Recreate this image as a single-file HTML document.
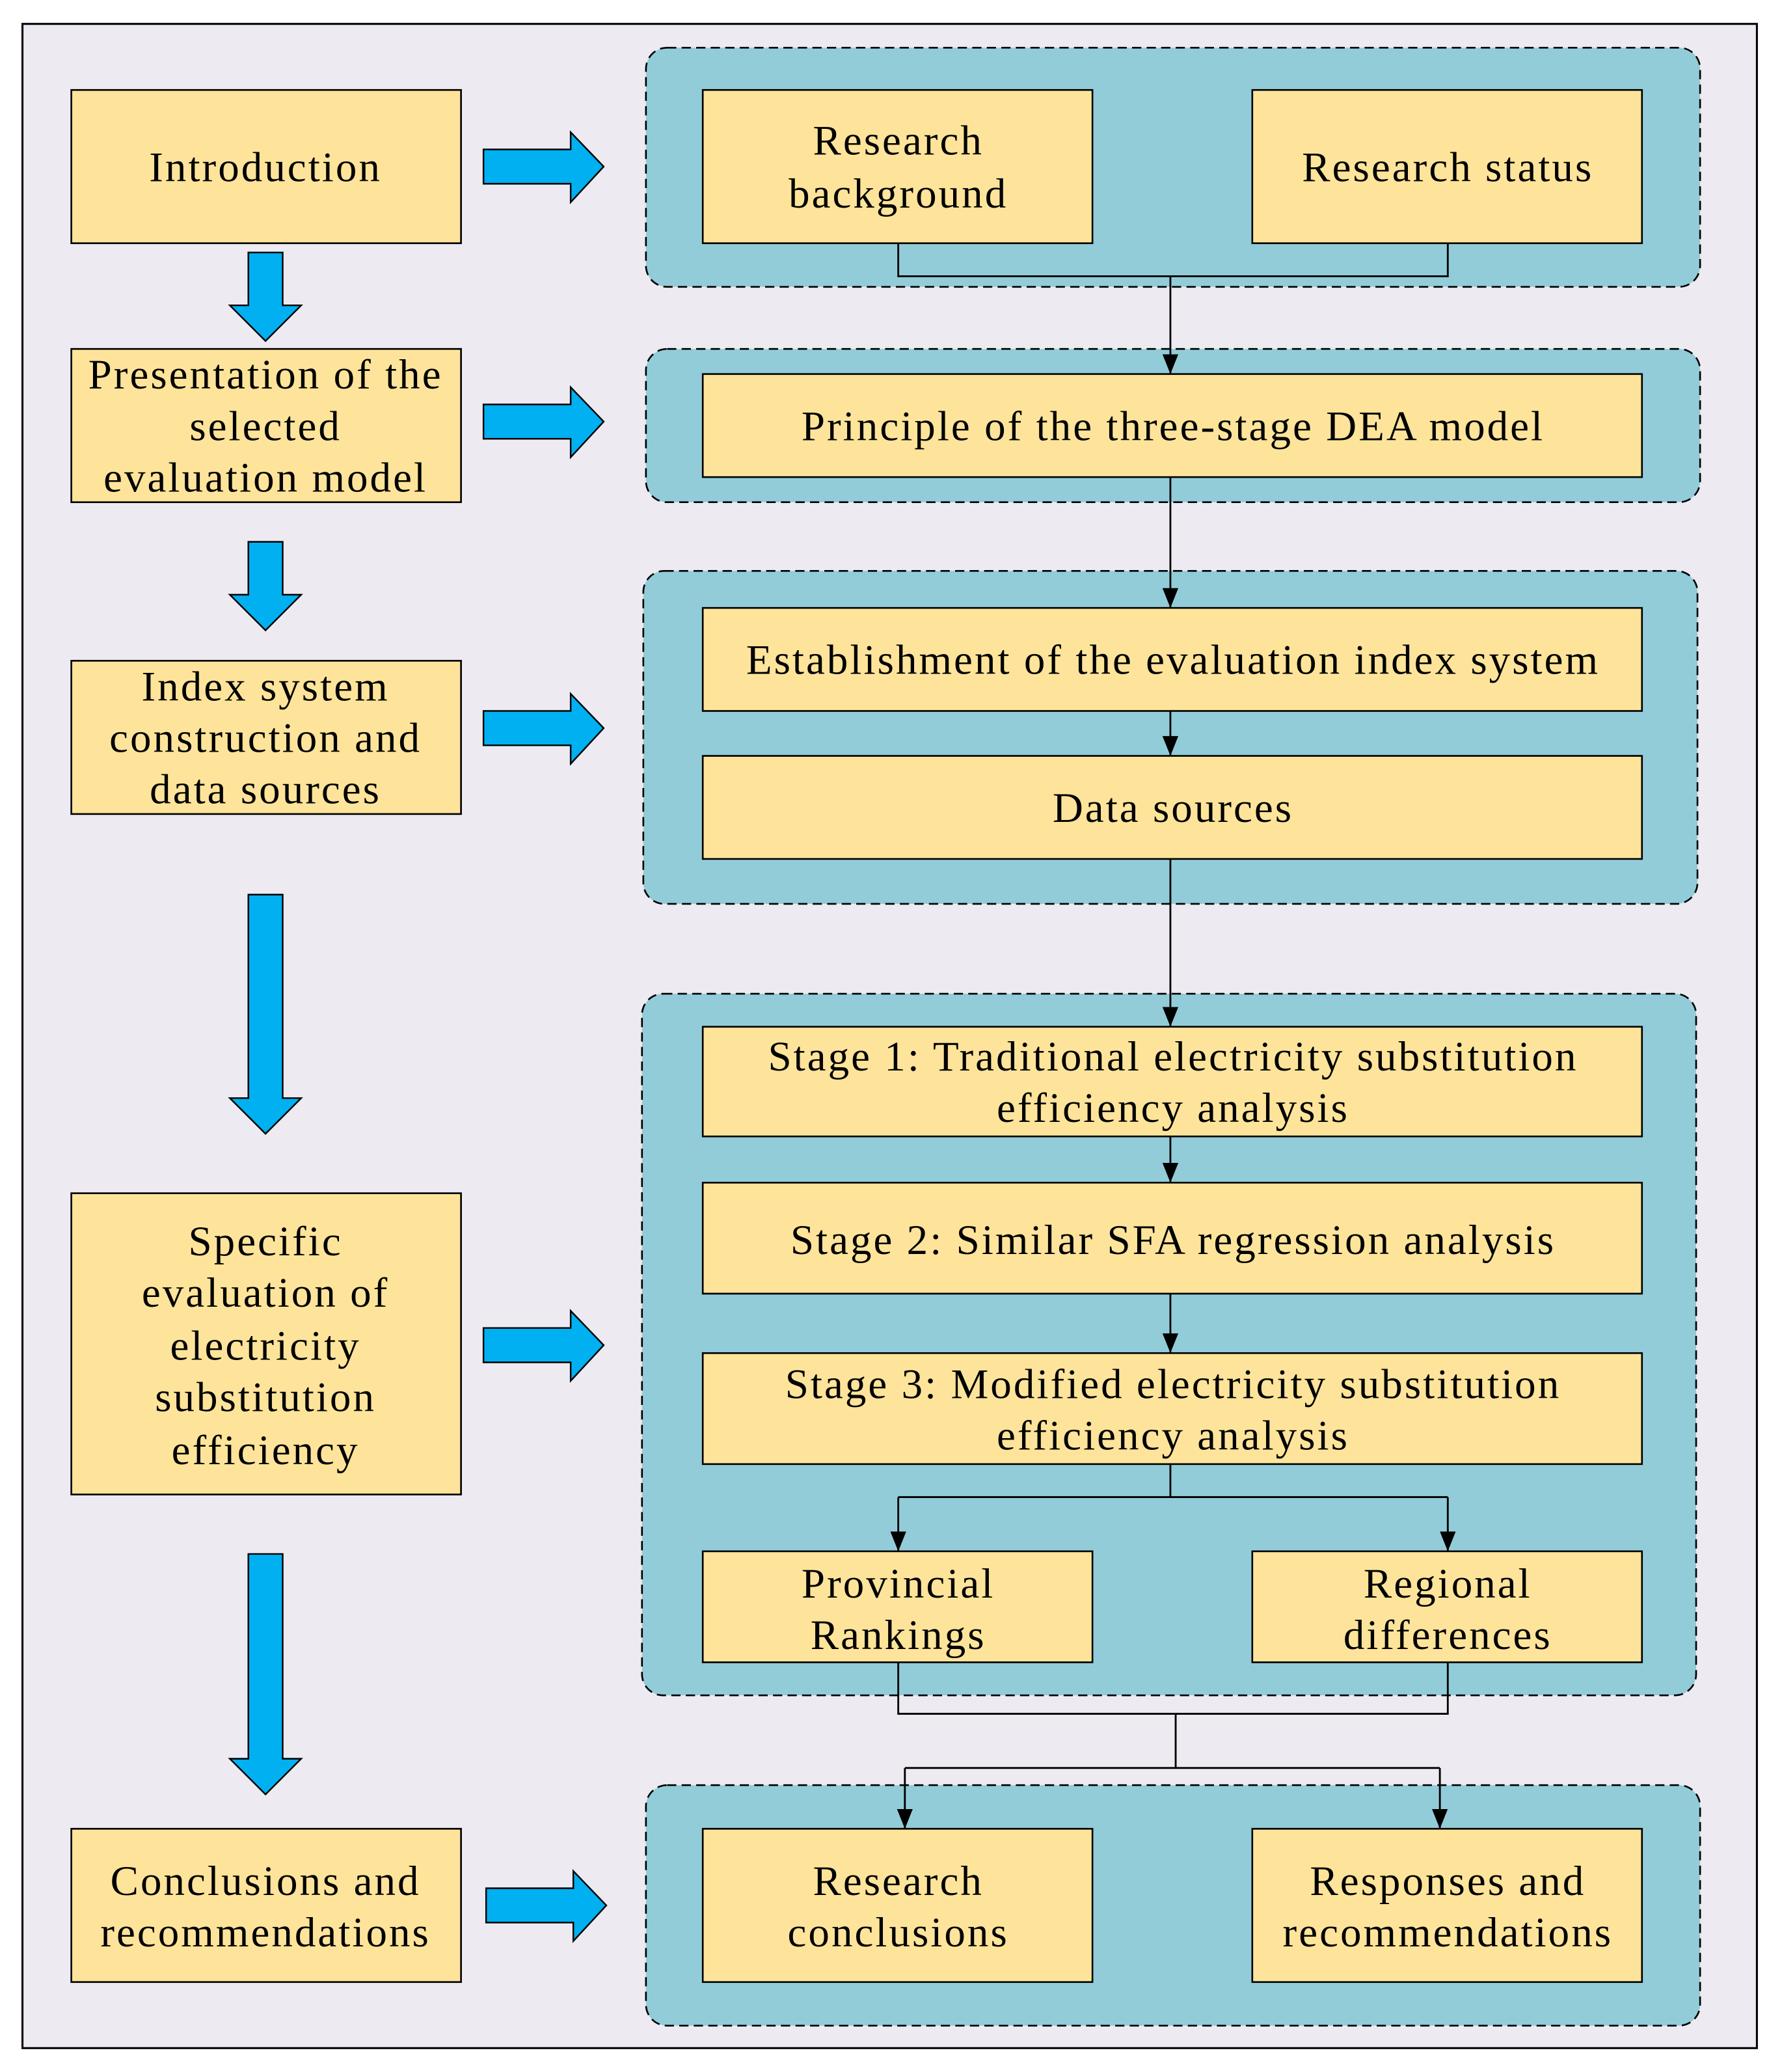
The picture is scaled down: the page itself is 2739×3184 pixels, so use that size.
<!DOCTYPE html>
<html><head><meta charset="utf-8"><style>
html,body{margin:0;padding:0;background:#fff}
svg{display:block}
text{font-family:"Liberation Serif",serif;font-size:32px;letter-spacing:1.5px;fill:#000;text-anchor:middle}
</style></head><body>
<svg width="2739" height="3184" viewBox="0 0 1349 1568" xmlns="http://www.w3.org/2000/svg">
<defs>
<marker id="ah" markerWidth="15" markerHeight="12" refX="15" refY="6" orient="auto" markerUnits="userSpaceOnUse">
<path d="M0,0 L15,6 L0,12 Z" fill="#000"/>
</marker>
</defs>
<rect x="17" y="18" width="1313" height="1532" fill="#edeaf2" stroke="#000" stroke-width="1.5"/>
<g fill="#92ccd9" stroke="#000" stroke-width="1.3" stroke-dasharray="7,4">
<rect x="489" y="36" width="798" height="181" rx="16"/>
<rect x="489" y="264" width="798" height="116" rx="16"/>
<rect x="487" y="432" width="798" height="252" rx="16"/>
<rect x="486" y="752" width="798" height="531" rx="16"/>
<rect x="489" y="1351" width="798" height="182" rx="16"/>
</g>
<g fill="#fde49a" stroke="#000" stroke-width="1.3">
<rect x="54" y="68" width="295" height="116"/>
<rect x="54" y="264" width="295" height="116"/>
<rect x="54" y="500" width="295" height="116"/>
<rect x="54" y="903" width="295" height="228"/>
<rect x="54" y="1384" width="295" height="116"/>
<rect x="532" y="68" width="295" height="116"/>
<rect x="948" y="68" width="295" height="116"/>
<rect x="532" y="283" width="711" height="78"/>
<rect x="532" y="460" width="711" height="78"/>
<rect x="532" y="572" width="711" height="78"/>
<rect x="532" y="777" width="711" height="83"/>
<rect x="532" y="895" width="711" height="84"/>
<rect x="532" y="1024" width="711" height="84"/>
<rect x="532" y="1174" width="295" height="84"/>
<rect x="948" y="1174" width="295" height="84"/>
<rect x="532" y="1384" width="295" height="116"/>
<rect x="948" y="1384" width="295" height="116"/>
</g>
<g fill="#00b0f0" stroke="#000" stroke-width="1.2">
<path d="M188,191 H214 V231 H228 L201,258 L174,231 H188 Z"/>
<path d="M188,410 H214 V450 H228 L201,477 L174,450 H188 Z"/>
<path d="M188,677 H214 V831 H228 L201,858 L174,831 H188 Z"/>
<path d="M188,1176 H214 V1331 H228 L201,1358 L174,1331 H188 Z"/>
<path d="M366,113 H432 V100 L457,126 L432,153 V139 H366 Z"/>
<path d="M366,306 H432 V293 L457,319 L432,346 V332 H366 Z"/>
<path d="M366,538 H432 V525 L457,551 L432,578 V564 H366 Z"/>
<path d="M366,1005 H432 V992 L457,1018 L432,1045 V1031 H366 Z"/>
<path d="M368,1429 H434 V1416 L459,1442 L434,1469 V1455 H368 Z"/>
</g>
<g fill="none" stroke="#000" stroke-width="1.4">
<path d="M680,184 V209 H1096 V184"/>
<path d="M886,209 V283" marker-end="url(#ah)"/>
<path d="M886,361 V460" marker-end="url(#ah)"/>
<path d="M886,538 V572" marker-end="url(#ah)"/>
<path d="M886,650 V777" marker-end="url(#ah)"/>
<path d="M886,860 V895" marker-end="url(#ah)"/>
<path d="M886,979 V1024" marker-end="url(#ah)"/>
<path d="M886,1108 V1133 M680,1133 H1096"/>
<path d="M680,1133 V1174" marker-end="url(#ah)"/>
<path d="M1096,1133 V1174" marker-end="url(#ah)"/>
<path d="M680,1258 V1297 H1096 V1258 M890,1297 V1338 M685,1338 H1090"/>
<path d="M685,1338 V1384" marker-end="url(#ah)"/>
<path d="M1090,1338 V1384" marker-end="url(#ah)"/>
</g>
<g>
<text x="201" y="137">Introduction</text>
<text x="201" y="294">Presentation of the</text>
<text x="201" y="333">selected</text>
<text x="201" y="372">evaluation model</text>
<text x="201" y="530">Index system</text>
<text x="201" y="569">construction and</text>
<text x="201" y="608">data sources</text>
<text x="201" y="950">Specific</text>
<text x="201" y="989">evaluation of</text>
<text x="201" y="1029">electricity</text>
<text x="201" y="1068">substitution</text>
<text x="201" y="1108">efficiency</text>
<text x="201" y="1434">Conclusions and</text>
<text x="201" y="1473">recommendations</text>
<text x="680" y="117">Research</text>
<text x="680" y="157">background</text>
<text x="1096" y="137">Research status</text>
<text x="888" y="333">Principle of the three-stage DEA model</text>
<text x="888" y="510">Establishment of the evaluation index system</text>
<text x="888" y="622">Data sources</text>
<text x="888" y="810">Stage 1: Traditional electricity substitution</text>
<text x="888" y="849">efficiency analysis</text>
<text x="888" y="949">Stage 2: Similar SFA regression analysis</text>
<text x="888" y="1058">Stage 3: Modified electricity substitution</text>
<text x="888" y="1097">efficiency analysis</text>
<text x="680" y="1209">Provincial</text>
<text x="680" y="1248">Rankings</text>
<text x="1096" y="1209">Regional</text>
<text x="1096" y="1248">differences</text>
<text x="680" y="1434">Research</text>
<text x="680" y="1473">conclusions</text>
<text x="1096" y="1434">Responses and</text>
<text x="1096" y="1473">recommendations</text>
</g>
</svg>
</body></html>
